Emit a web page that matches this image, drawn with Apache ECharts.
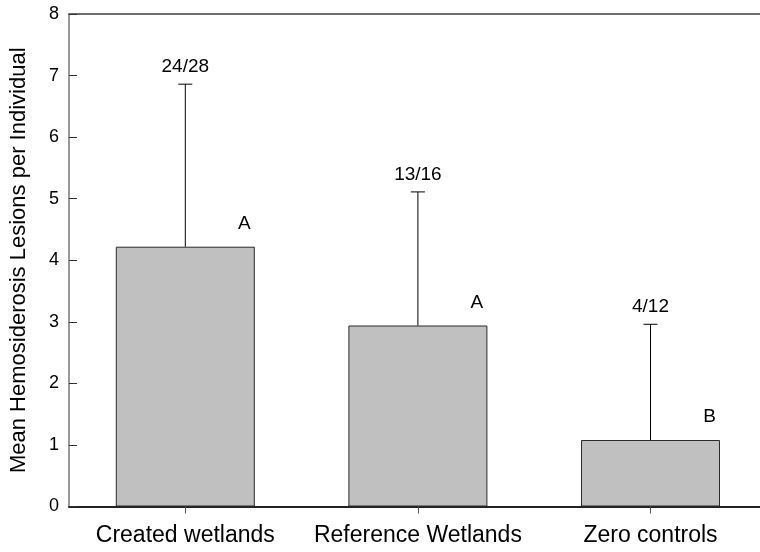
<!DOCTYPE html>
<html>
<head>
<meta charset="utf-8">
<script src="https://cdn.jsdelivr.net/npm/echarts@6/dist/echarts.min.js"></script>
<style>
  html, body { margin: 0; padding: 0; background: #ffffff; }
  #chart { width: 760px; height: 552px; }
</style>
</head>
<body>
<div id="chart"></div>
<script>
// Sites and their mean lesion counts with upper error limits
const categories = ['Created wetlands', 'Reference Wetlands', 'Zero controls'];
const meanLesions = [4.22, 2.94, 1.08];
const upperError = [6.86, 5.11, 2.96];
// Proportion of affected individuals and significance groups
const affectedCounts = ['24/28', '13/16', '4/12'];
const groupLetters = ['A', 'A', 'B'];
const yTicks = [0, 1, 2, 3, 4, 5, 6, 7, 8];

const FONT = '"Liberation Sans", Arial, Helvetica, sans-serif';

// Plot frame runs off the right edge of the page: the x range is
// chosen so each category slot is about 232.6 px wide.
const GRID_LEFT = 69;
const SLOT_PX = 232.6;
const PAGE_W = 760;
const xMin = -0.5;
const xMax = xMin + (PAGE_W - GRID_LEFT) / SLOT_PX;
const catPositions = categories.map((c, i) => i);

const chart = echarts.init(document.getElementById('chart'), null, { renderer: 'canvas' });

const barData = categories.map((c, i) => [i, meanLesions[i]]);
const errorData = categories.map((c, i) => [i, meanLesions[i], upperError[i]]);
const letterData = categories.map((c, i) => [i, meanLesions[i]]);

chart.setOption({
  animation: false,
  backgroundColor: '#ffffff',
  grid: { left: GRID_LEFT, top: 14, right: 0, height: 492.5 },
  xAxis: [
    {
      type: 'value',
      min: xMin,
      max: xMax,
      position: 'bottom',
      axisLine: { show: true, onZero: false, lineStyle: { color: '#222', width: 2 } },
      axisTick: { show: true, customValues: catPositions, length: 7, lineStyle: { color: '#555', width: 1 } },
      axisLabel: {
        customValues: catPositions,
        fontFamily: FONT, fontSize: 23, color: '#000', margin: 18,
        formatter: function (v) { return categories[Math.round(v)]; }
      },
      splitLine: { show: false }
    },
    {
      type: 'value',
      min: xMin,
      max: xMax,
      position: 'top',
      axisLine: { show: true, onZero: false, lineStyle: { color: '#6e6e6e', width: 2 } },
      axisTick: { show: false },
      axisLabel: { show: false },
      splitLine: { show: false }
    }
  ],
  yAxis: {
    type: 'value',
    min: yTicks[0],
    max: yTicks[yTicks.length - 1],
    interval: 1,
    position: 'left',
    name: 'Mean Hemosiderosis Lesions per Individual',
    nameLocation: 'middle',
    nameRotate: 90,
    nameGap: 39,
    nameTextStyle: { fontFamily: FONT, fontSize: 22, color: '#000' },
    axisLine: { show: true, onZero: false, lineStyle: { color: '#777', width: 1.5 } },
    axisTick: { show: true, inside: true, length: 8, lineStyle: { color: '#333', width: 1 } },
    axisLabel: { fontFamily: FONT, fontSize: 18, color: '#000', margin: 10 },
    splitLine: { show: false }
  },
  series: [
    {
      type: 'bar',
      data: barData,
      barWidth: 139,
      itemStyle: { color: '#c0c0c0', borderColor: '#2a2a2a', borderWidth: 1 },
      z: 2
    },
    {
      // error whisker with cap and sample count above it
      type: 'custom',
      data: errorData,
      z: 3,
      renderItem: function (params, api) {
        const base = api.coord([api.value(0), api.value(1)]);
        const top = api.coord([api.value(0), api.value(2)]);
        const half = 7;
        return {
          type: 'group',
          children: [
            { type: 'line', shape: { x1: top[0], y1: base[1], x2: top[0], y2: top[1] },
              style: { stroke: '#000', lineWidth: 1 } },
            { type: 'line', shape: { x1: top[0] - half, y1: top[1], x2: top[0] + half, y2: top[1] },
              style: { stroke: '#000', lineWidth: 1 } },
            { type: 'text', x: top[0], y: top[1] - 8,
              style: { text: affectedCounts[params.dataIndex], fill: '#000',
                       font: '19px ' + FONT, textAlign: 'center', textVerticalAlign: 'bottom' } }
          ]
        };
      }
    },
    {
      // significance group letters beside each bar top
      type: 'custom',
      data: letterData,
      z: 3,
      renderItem: function (params, api) {
        const p = api.coord([api.value(0), api.value(1)]);
        return {
          type: 'text', x: p[0] + 59, y: p[1] - 23,
          style: { text: groupLetters[params.dataIndex], fill: '#000',
                   font: '19px ' + FONT, textAlign: 'center', textVerticalAlign: 'middle' }
        };
      }
    }
  ]
});
</script>
</body>
</html>
